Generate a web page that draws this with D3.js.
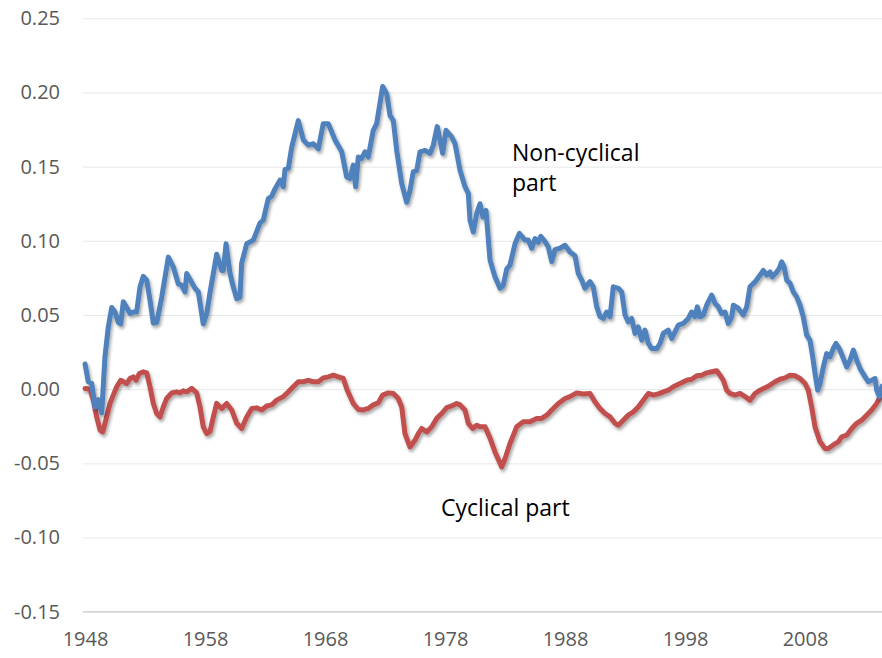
<!DOCTYPE html>
<html>
<head>
<meta charset="utf-8">
<script src="https://cdn.jsdelivr.net/npm/d3@7"></script>
<style>
  body { margin: 0; background: #fff; }
  svg text { font-family: "Open Sans", "Liberation Sans", sans-serif; }
</style>
</head>
<body>
<svg id="chart" width="882" height="658"></svg>
<script>
// values
const nonCyclicalYears = [1948.13, 1948.40, 1948.68, 1948.96, 1949.23, 1949.52, 1949.79, 1950.07, 1950.35, 1950.63, 1950.90, 1951.10, 1951.32, 1951.60, 1951.88, 1952.15, 1952.43, 1952.71, 1952.98, 1953.27, 1953.54, 1953.82, 1954.10, 1954.52, 1955.07, 1955.48, 1955.90, 1956.18, 1956.46, 1956.60, 1957.02, 1957.29, 1957.57, 1957.85, 1957.98, 1958.27, 1958.54, 1959.10, 1959.52, 1959.65, 1959.88, 1960.21, 1960.48, 1960.77, 1961.04, 1961.18, 1961.60, 1962.15, 1962.71, 1962.98, 1963.40, 1963.68, 1963.96, 1964.38, 1964.65, 1964.79, 1965.07, 1965.35, 1965.90, 1966.32, 1966.73, 1967.15, 1967.57, 1967.98, 1968.40, 1968.96, 1969.52, 1969.93, 1970.21, 1970.48, 1970.68, 1970.90, 1971.18, 1971.46, 1971.73, 1972.15, 1972.43, 1972.93, 1973.27, 1973.54, 1973.82, 1974.10, 1974.52, 1974.93, 1975.21, 1975.48, 1975.77, 1976.04, 1976.46, 1976.88, 1977.15, 1977.48, 1977.93, 1978.21, 1978.68, 1978.96, 1979.38, 1979.79, 1980.07, 1980.21, 1980.48, 1980.77, 1981.04, 1981.29, 1981.54, 1981.88, 1982.29, 1982.71, 1982.98, 1983.27, 1983.54, 1983.96, 1984.32, 1984.79, 1985.07, 1985.35, 1985.63, 1985.90, 1986.10, 1986.46, 1986.73, 1987.02, 1987.29, 1987.71, 1988.13, 1988.54, 1988.96, 1989.23, 1989.52, 1989.79, 1990.21, 1990.48, 1990.77, 1991.04, 1991.32, 1991.60, 1991.88, 1992.15, 1992.57, 1992.85, 1993.13, 1993.40, 1993.68, 1993.96, 1994.23, 1994.52, 1994.79, 1995.07, 1995.35, 1995.77, 1996.04, 1996.32, 1996.73, 1997.02, 1997.29, 1997.57, 1997.98, 1998.40, 1998.68, 1998.96, 1999.15, 1999.38, 1999.65, 1999.93, 2000.35, 2000.63, 2000.90, 2001.18, 2001.46, 2001.73, 2002.02, 2002.15, 2002.57, 2002.98, 2003.27, 2003.54, 2003.96, 2004.38, 2004.65, 2004.93, 2005.21, 2005.40, 2005.77, 2005.98, 2006.18, 2006.38, 2006.60, 2006.88, 2007.15, 2007.43, 2007.71, 2007.98, 2008.27, 2008.54, 2008.77, 2008.96, 2009.18, 2009.38, 2009.65, 2009.93, 2010.21, 2010.48, 2010.71, 2010.98, 2011.27, 2011.60, 2011.88, 2012.15, 2012.43, 2012.71, 2013.13, 2013.40, 2013.68, 2013.96, 2014.10, 2014.32, 2014.54];
const nonCyclicalValues = [0.017, 0.005, 0.004, -0.012, -0.007, -0.016, 0.022, 0.042, 0.055, 0.052, 0.045, 0.044, 0.059, 0.055, 0.051, 0.052, 0.052, 0.069, 0.076, 0.0735, 0.060, 0.0445, 0.045, 0.062, 0.089, 0.0825, 0.071, 0.070, 0.0655, 0.078, 0.072, 0.068, 0.0655, 0.051, 0.044, 0.051, 0.065, 0.091, 0.080, 0.080, 0.098, 0.078, 0.069, 0.061, 0.062, 0.085, 0.098, 0.1005, 0.112, 0.114, 0.1285, 0.130, 0.135, 0.141, 0.1365, 0.148, 0.149, 0.163, 0.181, 0.168, 0.1645, 0.1655, 0.162, 0.179, 0.179, 0.168, 0.160, 0.143, 0.142, 0.151, 0.1365, 0.1565, 0.1555, 0.160, 0.1565, 0.1745, 0.179, 0.204, 0.199, 0.1845, 0.181, 0.161, 0.1385, 0.126, 0.134, 0.1465, 0.1475, 0.160, 0.161, 0.159, 0.1645, 0.177, 0.159, 0.1745, 0.170, 0.1655, 0.1475, 0.1365, 0.132, 0.114, 0.106, 0.1185, 0.125, 0.116, 0.1205, 0.087, 0.0757, 0.068, 0.070, 0.081, 0.0836, 0.098, 0.105, 0.1005, 0.1005, 0.095, 0.1015, 0.099, 0.103, 0.0995, 0.096, 0.086, 0.094, 0.095, 0.097, 0.0925, 0.090, 0.078, 0.0735, 0.068, 0.0725, 0.069, 0.0555, 0.049, 0.0477, 0.052, 0.0488, 0.069, 0.068, 0.0656, 0.050, 0.0454, 0.0477, 0.0376, 0.042, 0.033, 0.0398, 0.0308, 0.0274, 0.0274, 0.0308, 0.0376, 0.0398, 0.0342, 0.0386, 0.0432, 0.0443, 0.0477, 0.052, 0.0488, 0.0555, 0.0488, 0.050, 0.0566, 0.0634, 0.0578, 0.0555, 0.051, 0.052, 0.0443, 0.0488, 0.0566, 0.0544, 0.050, 0.0555, 0.069, 0.0723, 0.0769, 0.080, 0.0769, 0.079, 0.0757, 0.079, 0.0814, 0.0858, 0.0825, 0.0735, 0.0713, 0.0656, 0.0622, 0.0566, 0.0488, 0.0364, 0.033, 0.0218, 0.0106, -0.0007, 0.0038, 0.015, 0.024, 0.0218, 0.0274, 0.0308, 0.0274, 0.0218, 0.015, 0.0196, 0.0263, 0.0196, 0.014, 0.0083, 0.005, 0.006, 0.0072, -0.0007, -0.005, 0.002];

const cyclicalYears = [1948.13, 1948.54, 1948.82, 1949.10, 1949.38, 1949.60, 1949.93, 1950.21, 1950.48, 1950.77, 1951.10, 1951.32, 1951.60, 1951.88, 1952.15, 1952.38, 1952.65, 1952.98, 1953.27, 1953.54, 1953.82, 1954.10, 1954.38, 1954.65, 1954.93, 1955.35, 1955.77, 1956.04, 1956.32, 1956.60, 1957.02, 1957.43, 1957.71, 1957.98, 1958.27, 1958.54, 1958.82, 1959.10, 1959.52, 1959.93, 1960.35, 1960.77, 1961.18, 1961.60, 1962.02, 1962.43, 1962.85, 1963.27, 1963.68, 1964.10, 1964.65, 1965.07, 1965.48, 1965.90, 1966.32, 1966.73, 1967.15, 1967.57, 1967.98, 1968.40, 1968.82, 1969.23, 1969.65, 1969.98, 1970.48, 1970.90, 1971.32, 1971.73, 1972.15, 1972.57, 1972.93, 1973.40, 1973.82, 1974.23, 1974.52, 1974.79, 1975.21, 1975.63, 1975.90, 1976.18, 1976.60, 1977.02, 1977.43, 1977.85, 1978.27, 1978.68, 1979.10, 1979.38, 1979.79, 1980.07, 1980.43, 1980.77, 1981.04, 1981.46, 1981.88, 1982.29, 1982.85, 1983.13, 1983.54, 1984.10, 1984.65, 1985.21, 1985.77, 1986.18, 1986.60, 1987.02, 1987.57, 1988.13, 1988.54, 1989.10, 1989.65, 1990.21, 1990.63, 1991.04, 1991.46, 1991.88, 1992.29, 1992.57, 1992.98, 1993.40, 1993.82, 1994.23, 1994.65, 1995.07, 1995.48, 1995.90, 1996.32, 1996.73, 1997.15, 1997.71, 1998.27, 1998.68, 1999.10, 1999.52, 1999.93, 2000.35, 2000.77, 2001.04, 2001.32, 2001.60, 2001.88, 2002.29, 2002.71, 2003.13, 2003.54, 2003.96, 2004.38, 2004.79, 2005.21, 2005.63, 2006.04, 2006.46, 2006.88, 2007.29, 2007.71, 2008.13, 2008.40, 2008.68, 2008.96, 2009.38, 2009.79, 2010.07, 2010.48, 2010.90, 2011.18, 2011.60, 2012.02, 2012.43, 2012.85, 2013.27, 2013.68, 2014.10, 2014.38, 2014.54];
const cyclicalValues = [0.0005, 0.0, -0.0074, -0.0187, -0.0276, -0.0288, -0.0187, -0.0096, -0.004, 0.0016, 0.006, 0.005, 0.0038, 0.0072, 0.0083, 0.006, 0.0106, 0.0117, 0.011, 0.0016, -0.0096, -0.0164, -0.0187, -0.012, -0.0063, -0.0025, -0.0018, -0.0025, -0.0011, -0.0018, 0.0005, -0.0025, -0.012, -0.0254, -0.0299, -0.0285, -0.0187, -0.0096, -0.013, -0.0096, -0.014, -0.023, -0.0265, -0.0187, -0.013, -0.0126, -0.014, -0.0113, -0.0106, -0.0074, -0.005, -0.0018, 0.0016, 0.005, 0.005, 0.006, 0.005, 0.005, 0.0076, 0.0083, 0.0094, 0.0083, 0.0072, -0.0007, -0.0096, -0.0137, -0.014, -0.013, -0.0106, -0.0091, -0.004, -0.0025, -0.0029, -0.0063, -0.012, -0.030, -0.039, -0.0343, -0.030, -0.0265, -0.0288, -0.0254, -0.0197, -0.0164, -0.0124, -0.0113, -0.0096, -0.0106, -0.014, -0.023, -0.0265, -0.0243, -0.0254, -0.0254, -0.033, -0.0423, -0.0524, -0.0467, -0.0366, -0.0254, -0.022, -0.022, -0.0197, -0.0197, -0.0175, -0.014, -0.0096, -0.0063, -0.005, -0.0025, -0.0032, -0.0029, -0.0086, -0.013, -0.0164, -0.0187, -0.023, -0.0243, -0.0209, -0.0175, -0.0153, -0.012, -0.0074, -0.0029, -0.004, -0.0032, -0.0018, -0.0007, 0.0016, 0.0038, 0.006, 0.0067, 0.009, 0.0094, 0.011, 0.0117, 0.0124, 0.0094, 0.006, -0.0007, -0.0029, -0.004, -0.0029, -0.005, -0.0074, -0.0029, -0.0007, 0.0009, 0.0027, 0.005, 0.0067, 0.0076, 0.0094, 0.009, 0.0072, 0.0038, -0.0007, -0.012, -0.0254, -0.0355, -0.040, -0.040, -0.0376, -0.0355, -0.0321, -0.031, -0.0265, -0.023, -0.0209, -0.0175, -0.014, -0.0096, -0.005, -0.003];

const yTicks = [-0.15, -0.10, -0.05, 0.00, 0.05, 0.10, 0.15, 0.20, 0.25];
const xTicks = [1948, 1958, 1968, 1978, 1988, 1998, 2008];
const seriesNames = ["Non-cyclical part", "Cyclical part"];

const svg = d3.select("#chart");
const plotLeft = 83, plotRight = 882, plotTop = 18.3, plotBottom = 611.7;

const x = d3.scaleLinear().domain([1948, 2014.5]).range([83.5, 881.5]);
const y = d3.scaleLinear().domain([-0.15, 0.25]).range([plotBottom, plotTop]);

// drop shadow like the spreadsheet lines
const defs = svg.append("defs");
defs.append("filter").attr("id", "shadow")
    .attr("x", "-5%").attr("y", "-5%").attr("width", "110%").attr("height", "120%")
  .append("feDropShadow")
    .attr("dx", 1.5).attr("dy", 2.5).attr("stdDeviation", 1.6)
    .attr("flood-color", "#000").attr("flood-opacity", 0.35);

// plain hyphen for negatives, as in the original
const fmt = d => d3.format(".2f")(d).replace("\u2212", "-");

// y axis with gridlines
const yAxis = svg.append("g").attr("transform", `translate(${plotLeft},0)`)
    .call(d3.axisLeft(y).tickValues(yTicks)
        .tickSize(-(plotRight - plotLeft)).tickPadding(23)
        .tickFormat(fmt));
yAxis.select(".domain").remove();
yAxis.selectAll(".tick line").attr("stroke", "#e8e8e8").attr("stroke-width", 1);
yAxis.selectAll(".tick text").attr("fill", "#595959").attr("font-size", 20);

// bottom axis line and year labels
const xAxis = svg.append("g").attr("transform", `translate(1.5,${plotBottom})`)
    .call(d3.axisBottom(x).tickValues(xTicks).tickSize(0).tickPadding(20)
        .tickFormat(d3.format("d")));
xAxis.select(".domain").remove();
xAxis.selectAll(".tick text").attr("fill", "#595959").attr("font-size", 20);
svg.append("line")
    .attr("x1", plotLeft).attr("x2", plotRight).attr("y1", plotBottom).attr("y2", plotBottom)
    .attr("stroke", "#d4d4d4").attr("stroke-width", 1.5);

const line = d3.line().x(d => x(d[0])).y(d => y(d[1]));

const nonCyclical = d3.zip(nonCyclicalYears, nonCyclicalValues);
const cyclical = d3.zip(cyclicalYears, cyclicalValues);

svg.append("path").datum(cyclical)
    .attr("d", line).attr("fill", "none")
    .attr("stroke", "#C0504D").attr("stroke-width", 5)
    .attr("stroke-linejoin", "round").attr("stroke-linecap", "round")
    .attr("filter", "url(#shadow)");

svg.append("path").datum(nonCyclical)
    .attr("d", line).attr("fill", "none")
    .attr("stroke", "#4F81BD").attr("stroke-width", 5)
    .attr("stroke-linejoin", "round").attr("stroke-linecap", "round")
    .attr("filter", "url(#shadow)");

// series labels
svg.append("text").attr("x", 512).attr("y", 161)
    .attr("font-size", 23).attr("fill", "#000")
    .text("Non-cyclical");
svg.append("text").attr("x", 512).attr("y", 191)
    .attr("font-size", 23).attr("fill", "#000")
    .text("part");
svg.append("text").attr("x", 441).attr("y", 516)
    .attr("font-size", 23).attr("fill", "#000")
    .text(seriesNames[1]);
</script>
</body>
</html>
